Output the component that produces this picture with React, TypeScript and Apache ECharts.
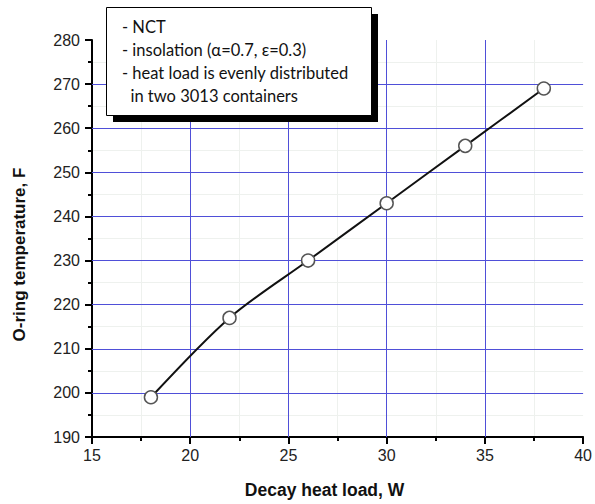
import React, { useEffect, useRef } from "react";
import * as echarts from "echarts";

const heatLoad = [18, 22, 26, 30, 34, 38];
const oringTemp = [199, 217, 230, 243, 256, 269];
const xGridValues = [20, 25, 30, 35];
const yGridValues = [200, 210, 220, 230, 240, 250, 260, 270];
const noteLines = [
  "- NCT",
  "- insolation (\u03b1=0.7, \u03b5=0.3)",
  "- heat load is evenly distributed",
  "  in two 3013 containers",
];
const xTitle = "Decay heat load, W";
const yTitle = "O-ring temperature, F";

const BLUE = "#4f4fd8";

export default function App() {
  const ref = useRef<HTMLDivElement>(null);
  useEffect(() => {
    document.body.style.margin = "0";
    if (!ref.current) return;
    const chart = echarts.init(ref.current, null, { renderer: "svg" });
    const font = "'Liberation Sans', Arial, sans-serif";
    chart.setOption({
      animation: false,
      backgroundColor: "#ffffff",
      grid: { left: 92, right: 10, top: 40, bottom: 63 },
      xAxis: {
        type: "value",
        min: 15,
        max: 40,
        interval: 5,
        name: xTitle,
        nameLocation: "middle",
        nameGap: 44,
        nameTextStyle: {
          fontFamily: font,
          fontSize: 17.5,
          fontWeight: "bold",
          color: "#111",
          padding: [0, 26, 0, 0],
        },
        axisLine: { show: true, lineStyle: { color: "#000", width: 2 } },
        axisTick: { show: true, inside: false, length: 7, lineStyle: { color: "#000", width: 2 } },
        minorTick: { show: true, splitNumber: 2, length: 4, lineStyle: { color: "#000", width: 2 } },
        axisLabel: { fontFamily: font, fontSize: 16, color: "#222", margin: 10 },
        splitLine: { show: false },
        minorSplitLine: { show: true, lineStyle: { color: "#eef1ee", width: 1 } },
      },
      yAxis: {
        type: "value",
        min: 190,
        max: 280,
        interval: 10,
        name: yTitle,
        nameLocation: "middle",
        nameGap: 64,
        nameRotate: 90,
        nameTextStyle: {
          fontFamily: font,
          fontSize: 17,
          fontWeight: "bold",
          color: "#111",
          padding: [0, 32, 0, 0],
        },
        axisLine: { show: true, lineStyle: { color: "#000", width: 2 } },
        axisTick: { show: true, inside: false, length: 7, lineStyle: { color: "#000", width: 2 } },
        minorTick: { show: true, splitNumber: 2, length: 4, lineStyle: { color: "#000", width: 2 } },
        axisLabel: { fontFamily: font, fontSize: 16, color: "#222", margin: 12 },
        splitLine: { show: false },
        minorSplitLine: { show: true, lineStyle: { color: "#eef1ee", width: 1 } },
      },
      series: [
        {
          type: "line",
          data: [],
          silent: true,
          markLine: {
            silent: true,
            symbol: "none",
            label: { show: false },
            lineStyle: { color: BLUE, width: 1, type: "solid" },
            data: [
              ...xGridValues.map((v) => ({ xAxis: v })),
              ...yGridValues.map((v) => ({ yAxis: v })),
            ],
          },
          z: 1,
        },
        {
          type: "line",
          data: heatLoad.map((x, i) => [x, oringTemp[i]]),
          smooth: 0.3,
          symbol: "circle",
          symbolSize: 13,
          lineStyle: { color: "#111", width: 2 },
          itemStyle: { color: "#ffffff", borderColor: "#555", borderWidth: 1.5 },
          z: 5,
        },
      ],
      graphic: [
        {
          type: "rect",
          shape: { x: 113, y: 14, width: 265, height: 108 },
          style: { fill: "#000" },
          z: 100,
        },
        {
          type: "rect",
          shape: { x: 106.5, y: 7.5, width: 265, height: 108 },
          style: { fill: "#fff", stroke: "#000", lineWidth: 1 },
          z: 101,
        },
        ...noteLines.map((t, i) => ({
          type: "text",
          x: 122,
          y: 27 + i * 23,
          style: {
            text: t,
            fill: "#111",
            font: "16.5px Lato, 'Open Sans', sans-serif",
            verticalAlign: "middle",
          },
          z: 102,
        })),
      ],
    });
    return () => chart.dispose();
  }, []);
  return <div ref={ref} style={{ width: 595, height: 504 }} />;
}
